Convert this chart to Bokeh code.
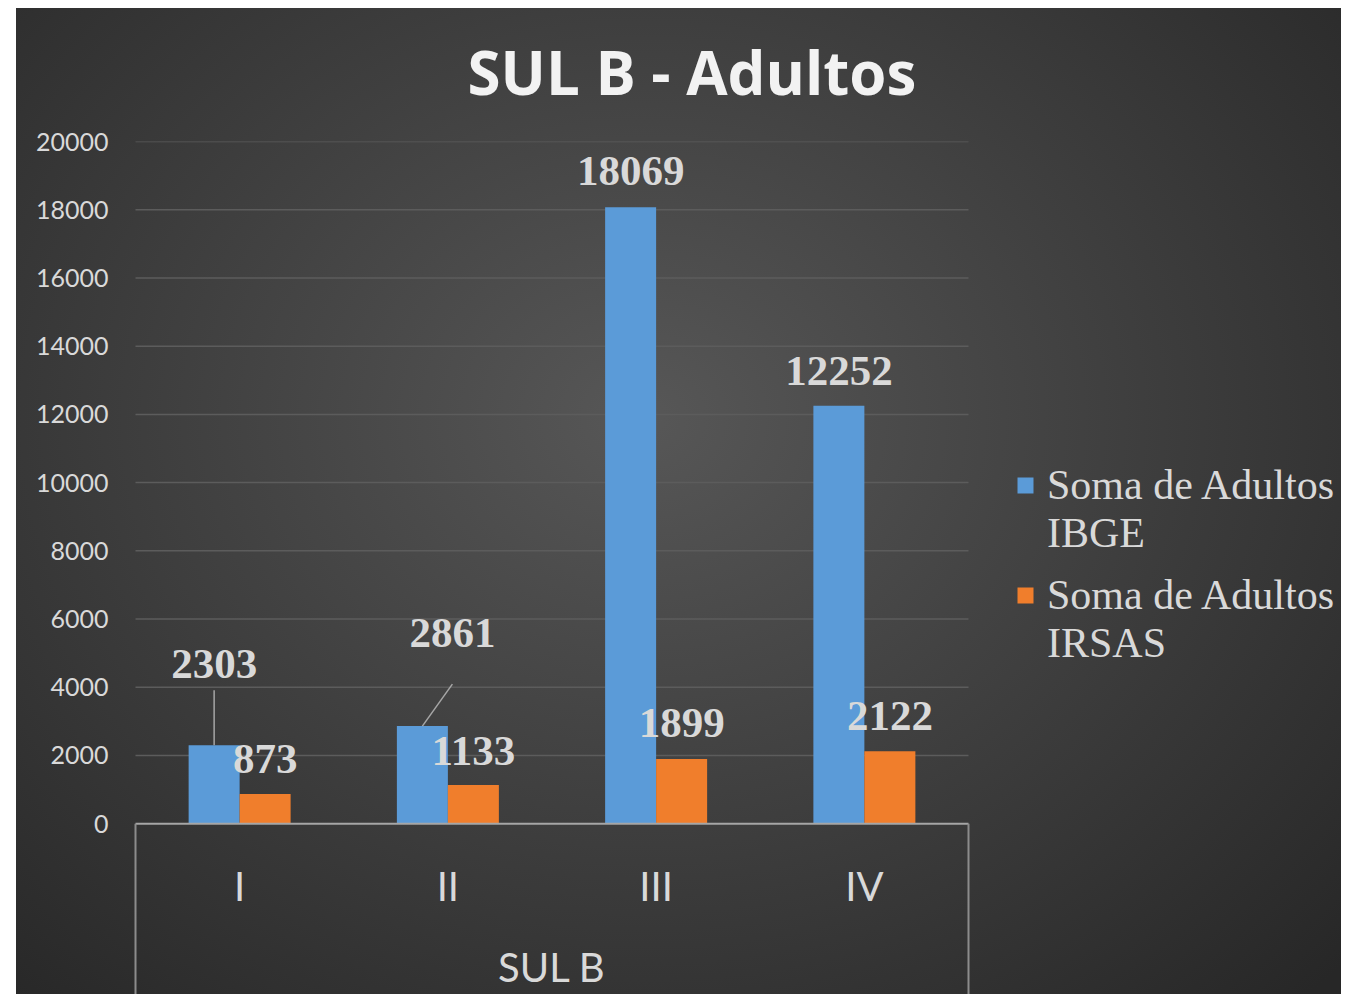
from bokeh.plotting import figure
from bokeh.models import (ColumnDataSource, Legend, LegendItem, FixedTicker, Range1d)
from bokeh.transform import dodge
from bokeh.core.properties import value
from bokeh.embed import file_html
from bokeh.resources import INLINE

# ---------------- data ----------------
title_text = "SUL B - Adultos"
group_name = "SUL B"
categories = ["I", "II", "III", "IV"]
ibge = [2303, 2861, 18069, 12252]
irsas = [873, 1133, 1899, 2122]
series_names = [("Soma de Adultos", "IBGE"), ("Soma de Adultos", "IRSAS")]
y_ticks = [0, 2000, 4000, 6000, 8000, 10000, 12000, 14000, 16000, 18000, 20000]

# ---------------- layout / style ----------------
W, H = 1341, 994
PL = 130                      # frame left (canvas px)
FL, FR, FT, FB = 135, 968, 140, 823   # plotting box of the chart (canvas px)
Y_MAX = 20000
units_per_px = Y_MAX / (FB - FT)
n_cat = len(categories)
cat_px = (FR - FL) / n_cat
x_start = -(FL - PL) / cat_px
x_end = n_cat + (W - FR) / cat_px
y_start = -(H - FB) * units_per_px
bar_w = 51 / cat_px
off = bar_w / 2
centers = [i + 0.5 for i in range(n_cat)]   # slot centre of each category

BLUE = "#5b9bd8"
ORANGE = "#f07e2c"
TXT = "#d9d9d9"
BOXLINE = "#8c8c8c"
GRID = "#5c5c5c"

# data label offsets (screen px, relative to bar top)
ibge_lbl_dx = [0, 30, 0, 0]
ibge_lbl_dy = [-81, -93, -36, -35]
irsas_lbl_dx = [0, 0, 0, 0]
irsas_lbl_dy = [-35, -34, -36, -35]

src = ColumnDataSource(data=dict(
    x=centers, cat=categories, ibge=ibge, irsas=irsas,
    ibge_txt=[str(v) for v in ibge], irsas_txt=[str(v) for v in irsas],
    ibge_dx=ibge_lbl_dx, ibge_dy=ibge_lbl_dy,
    irsas_dx=irsas_lbl_dx, irsas_dy=irsas_lbl_dy,
))

p = figure(width=W, height=H,
           x_range=Range1d(x_start, x_end), y_range=Range1d(y_start, Y_MAX),
           x_axis_location=None,
           output_backend="svg", toolbar_location=None,
           min_border_left=PL, min_border_right=0,
           min_border_top=FT, min_border_bottom=0)

p.styles = {"background":
            "linear-gradient(to bottom, #ffffff 0px, #ffffff 8px, transparent 8px), "
            "linear-gradient(to right, #ffffff 0px, #ffffff 16px, transparent 16px), "
            "radial-gradient(ellipse 72% 80% at 48% 42%, #575757 0%, #3b3b3b 58%, #272727 100%)"}
p.border_fill_color = None
p.background_fill_color = None
p.outline_line_color = None
p.grid.visible = False

# title
p.title.text = title_text
p.title.text_font = "Open Sans"
p.title.text_font_style = "bold"
p.title.text_font_size = "60px"
p.title.text_color = "#f2f2f2"
p.title.align = "left"
p.title.offset = 337
p.title.standoff = 57

# horizontal grid lines (only across the category slots)
p.segment(x0=0, x1=n_cat, y0=y_ticks[1:], y1=y_ticks[1:], line_color=GRID, line_width=1.5)

# bars
r_ibge = p.vbar(x=dodge("x", -off), top="ibge", width=bar_w,
                source=src, fill_color=BLUE, line_color=None)
r_irsas = p.vbar(x=dodge("x", off), top="irsas", width=bar_w,
                 source=src, fill_color=ORANGE, line_color=None)
r_blank = p.vbar(x=[], top=[], width=bar_w, fill_alpha=0, line_alpha=0)

# category box: axis line + slot edges
p.segment(x0=0, x1=n_cat, y0=0, y1=0, line_color="#a6a6a6", line_width=2)
p.segment(x0=[0, n_cat], x1=[0, n_cat], y0=0, y1=y_start,
          line_color=BOXLINE, line_width=2)

# category labels and group label
p.text(x="x", y=0, text="cat", source=src, y_offset=62,
       text_font=value("Lato"), text_font_size="40px", text_color=TXT,
       text_align="center", text_baseline="middle")
p.text(x=[n_cat / 2], y=[0], text=[group_name], y_offset=143,
       text_font=value("Lato"), text_font_size="40px", text_color=TXT,
       text_align="center", text_baseline="middle")

# leader lines for the two moved labels
lead_src1 = ColumnDataSource(data=dict(x=[centers[0]], y0=[ibge[0]],
                                       y1=[ibge[0] + 55 * units_per_px]))
p.segment(x0=dodge("x", -off), x1=dodge("x", -off),
          y0="y0", y1="y1", source=lead_src1, line_color="#a6a6a6", line_width=1.5)
lead_src2 = ColumnDataSource(data=dict(x=[centers[1]], y0=[ibge[1]],
                                       y1=[ibge[1] + 42 * units_per_px]))
p.segment(x0=dodge("x", -off), x1=dodge("x", -off + 30 / cat_px),
          y0="y0", y1="y1", source=lead_src2, line_color="#a6a6a6", line_width=1.5)

# data labels
common = dict(text_font=value("Liberation Serif"), text_font_style="bold",
              text_font_size="43px", text_color=TXT, text_align="center",
              text_baseline="middle")
p.text(x=dodge("x", -off), y="ibge", text="ibge_txt",
       x_offset="ibge_dx", y_offset="ibge_dy", source=src, **common)
p.text(x=dodge("x", off), y="irsas", text="irsas_txt",
       x_offset="irsas_dx", y_offset="irsas_dy", source=src, **common)

# y axis
p.yaxis.ticker = FixedTicker(ticks=y_ticks)
p.yaxis.axis_line_color = None
p.yaxis.major_tick_line_color = None
p.yaxis.minor_tick_line_color = None
p.yaxis.major_label_text_font = "Lato"
p.yaxis.major_label_text_font_size = "25px"
p.yaxis.major_label_text_color = TXT
p.yaxis.major_label_standoff = 16


# legends (one per series, label wrapped over two lines as in the original)
def make_legend(renderer, lines, top_px):
    lg = Legend(items=[LegendItem(label=lines[0], renderers=[renderer]),
                       LegendItem(label=lines[1], renderers=[r_blank])],
                location=(1015 - PL, H - (top_px + 96)))
    lg.label_text_font = "Liberation Serif"
    lg.label_text_font_size = "42px"
    lg.label_text_color = TXT
    lg.label_height = 48
    lg.glyph_width = 20
    lg.glyph_height = 20
    lg.label_standoff = 12
    lg.spacing = 0
    lg.padding = 0
    lg.margin = 0
    lg.border_line_color = None
    lg.background_fill_alpha = 0
    return lg


p.add_layout(make_legend(r_ibge, series_names[0], 461))
p.add_layout(make_legend(r_irsas, series_names[1], 571))

open("out.html", "w").write(file_html(p, INLINE))
